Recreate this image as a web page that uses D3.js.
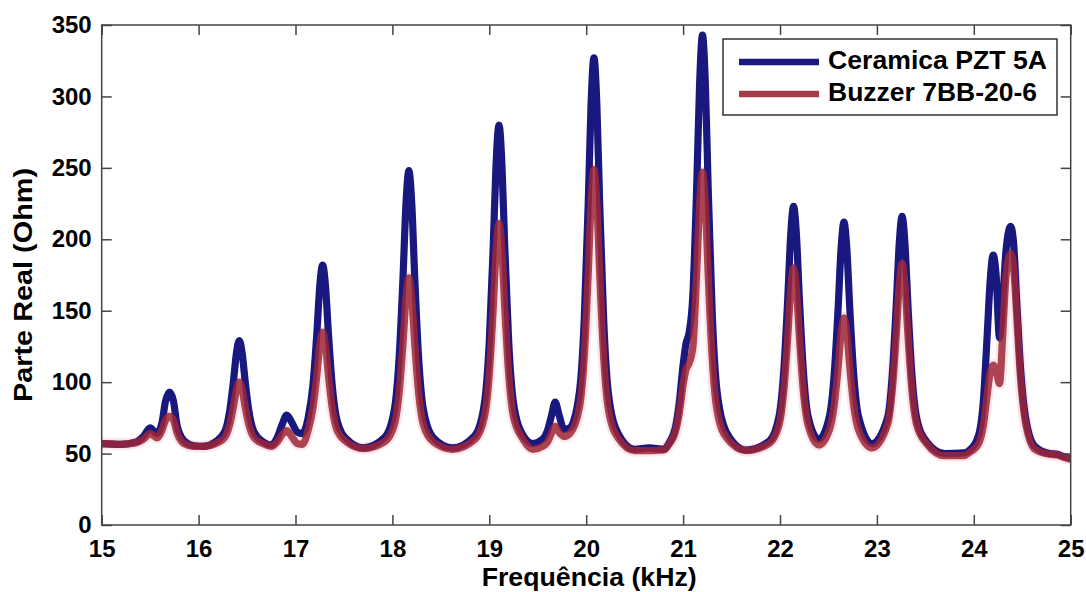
<!DOCTYPE html>
<html>
<head>
<meta charset="utf-8">
<script src="https://cdn.jsdelivr.net/npm/d3@7"></script>
<style>
  html, body { margin: 0; padding: 0; background: #ffffff; }
  svg { display: block; }
  text { font-family: "Liberation Sans", Arial, sans-serif; font-weight: bold; fill: #000; }
</style>
</head>
<body>
<svg id="chart" width="1086" height="592"></svg>
<script>
// ---------------- data ----------------
const seriesNames = ["Ceramica PZT 5A", "Buzzer 7BB-20-6"];
const xTicks = [15, 16, 17, 18, 19, 20, 21, 22, 23, 24, 25];
const yTicks = [0, 50, 100, 150, 200, 250, 300, 350];
const xLabel = "Frequência (kHz)";
const yLabel = "Parte Real (Ohm)";

// frequency (kHz)
const freq = [
  15.00, 15.20, 15.35, 15.43, 15.50, 15.57, 15.62, 15.66, 15.70, 15.74,
  15.78, 15.85, 15.95, 16.05, 16.17, 16.27, 16.32, 16.36, 16.39, 16.42,
  16.45, 16.48, 16.52, 16.57, 16.67, 16.75, 16.81, 16.86, 16.91, 16.96,
  17.02, 17.07, 17.13, 17.18, 17.22, 17.25, 17.28, 17.31, 17.34, 17.38,
  17.43, 17.53, 17.70, 17.92, 18.02, 18.07, 18.11, 18.14, 18.17, 18.20,
  18.23, 18.27, 18.32, 18.42, 18.62, 18.85, 18.95, 19.00, 19.04, 19.07,
  19.10, 19.13, 19.16, 19.20, 19.25, 19.35, 19.45, 19.55, 19.60, 19.64,
  19.68, 19.72, 19.77, 19.83, 19.93, 19.98, 20.02, 20.05, 20.08, 20.11,
  20.14, 20.18, 20.23, 20.33, 20.50, 20.65, 20.80, 20.86, 20.92, 20.96,
  21.00, 21.03, 21.06, 21.10, 21.14, 21.17, 21.20, 21.23, 21.26, 21.30,
  21.35, 21.45, 21.65, 21.89, 21.99, 22.04, 22.08, 22.11, 22.14, 22.17,
  22.20, 22.24, 22.29, 22.40, 22.51, 22.56, 22.60, 22.63, 22.66, 22.69,
  22.72, 22.76, 22.81, 22.95, 23.11, 23.16, 23.20, 23.23, 23.26, 23.29,
  23.32, 23.36, 23.41, 23.51, 23.70, 23.90, 23.95, 24.05, 24.10, 24.14,
  24.17, 24.20, 24.23, 24.265, 24.30, 24.33, 24.36, 24.38, 24.41, 24.44,
  24.48, 24.53, 24.63, 24.78, 24.86, 24.92, 25.00
];

// Ceramica PZT 5A (Ohm)
const ceramica = [
  57, 56.5, 58, 62, 68, 64, 71, 87, 93, 87,
  69, 59, 55.5, 55, 58, 65.4, 79.4, 100.9, 120.1, 129,
  120.1, 100.9, 79.4, 65.4, 58, 56, 61, 70, 77, 72,
  65, 64, 75, 98, 133.7, 166.8, 182, 166.8, 133.7, 96.9,
  72.8, 60, 54, 61.3, 80.7, 117.7, 174.1, 224.7, 248, 224.7,
  174.1, 117.7, 80.7, 61.3, 54, 62.6, 85.2, 128.2, 193.9, 252.8,
  280, 252.8, 193.9, 128.2, 85.2, 62.6, 57, 60, 66, 76,
  86, 77, 67, 68, 93, 143.4, 222.9, 294.1, 327, 294.1,
  222.9, 143.4, 91.4, 64, 53, 54, 53, 58, 68, 85,
  112, 127, 134, 160, 236, 308, 343, 308, 233, 148.7,
  93.6, 64.6, 52.5, 58.8, 75.9, 108.4, 158, 202.5, 223, 202.5,
  158, 108.4, 75.9, 60, 76.1, 106.1, 152, 193, 212, 193,
  152, 106.1, 76.1, 57, 75, 106.1, 153.7, 196.3, 216, 196.3,
  153.7, 106.1, 75, 58.6, 50, 50.5, 52, 63, 88, 135,
  172, 189, 175, 131, 158, 190, 206, 209, 198, 160,
  112, 77, 55, 50, 49.5, 48, 46.5
];

// Buzzer 7BB-20-6 (Ohm)
const buzzer = [
  57, 56.5, 57.5, 60, 64, 61, 66, 73.5, 76, 73.5,
  64, 57, 55, 55, 56.8, 61.3, 69.9, 82.9, 94.6, 100,
  94.6, 82.9, 69.9, 61.3, 56.8, 55, 58, 63, 66, 62,
  57, 56.5, 66.2, 82, 104.6, 125.4, 135, 125.4, 104.6, 81.4,
  66.2, 58, 53.5, 58.3, 70.2, 92.9, 127.6, 158.7, 173, 158.7,
  127.6, 92.9, 70.2, 58.3, 53, 59.8, 75.6, 105.5, 151.2, 192.1,
  211, 192.1, 151.2, 105.5, 75.6, 59.8, 53, 55, 58, 64,
  69, 65, 62, 64, 82, 117.7, 174.5, 225.5, 249, 225.5,
  174.5, 117.7, 80.4, 60.8, 52, 52, 52.5, 57, 65, 78,
  98, 109, 113, 124, 176, 223.7, 247, 223.7, 173.3, 117,
  80.2, 60.8, 52, 57.1, 69.9, 94.2, 131.4, 164.6, 180, 164.6,
  131.4, 94.2, 69.9, 56, 66.7, 84, 110.4, 134.1, 145, 134.1,
  110.4, 84, 66.7, 54, 70.3, 95.2, 133.2, 167.3, 183, 167.3,
  133.2, 95.2, 70.3, 57.2, 48.5, 48.5, 50.5, 57, 70, 92,
  107, 112, 108, 99, 135, 172, 187, 190, 181, 150,
  105, 73, 53, 49.5, 49, 47.5, 46
];

// ---------------- drawing ----------------
const plot = { left: 101.7, right: 1070.7, top: 25, bottom: 525 };
const blue = "#18187f";
const red = "#9e2636";

const svg = d3.select("#chart");
const x = d3.scaleLinear().domain([15, 25]).range([plot.left, plot.right]);
const y = d3.scaleLinear().domain([0, 350]).range([plot.bottom, plot.top]);

svg.append("defs").append("clipPath").attr("id", "clip")
  .append("rect")
  .attr("x", plot.left).attr("y", plot.top)
  .attr("width", plot.right - plot.left).attr("height", plot.bottom - plot.top);

const rowsC = freq.map((f, i) => [f, ceramica[i]]);
const rowsB = freq.map((f, i) => [f, buzzer[i]]);

const line = d3.line()
  .x(d => x(d[0]))
  .y(d => y(d[1]))
  .curve(d3.curveMonotoneX);

const g = svg.append("g").attr("clip-path", "url(#clip)");

// soft halo like the reference's blur
g.append("path").datum(rowsB).attr("d", line)
  .attr("fill", "none").attr("stroke", "#f6c9d2").attr("stroke-width", 12)
  .attr("stroke-opacity", 0.45).attr("stroke-linejoin", "round");
g.append("path").datum(rowsC).attr("d", line)
  .attr("fill", "none").attr("stroke", blue).attr("stroke-width", 7.2)
  .attr("stroke-linejoin", "round");
g.append("path").datum(rowsB).attr("d", line)
  .attr("fill", "none").attr("stroke", red).attr("stroke-width", 7.2)
  .attr("stroke-opacity", 0.85).attr("stroke-linejoin", "round");

// axes (ticks pointing inward, MATLAB style)
const axisColor = "#444";
function styleAxis(sel) {
  sel.select(".domain").remove();
  sel.selectAll(".tick line").attr("stroke", axisColor).attr("stroke-width", 1.5);
  sel.selectAll("text").attr("font-size", 24).attr("fill", "#000")
    .attr("font-family", "Liberation Sans, Arial, sans-serif").attr("font-weight", "bold");
}

svg.append("g").attr("transform", `translate(0,${plot.bottom})`)
  .call(d3.axisBottom(x).tickValues(xTicks).tickSize(-10).tickPadding(15).tickFormat(d3.format("d")))
  .call(styleAxis);
svg.append("g").attr("transform", `translate(${plot.left},0)`)
  .call(d3.axisLeft(y).tickValues(yTicks).tickSize(-10).tickPadding(10).tickFormat(d3.format("d")))
  .call(styleAxis);
svg.append("g").attr("transform", `translate(0,${plot.top})`)
  .call(d3.axisTop(x).tickValues(xTicks).tickSize(-10).tickFormat(""))
  .call(styleAxis);
svg.append("g").attr("transform", `translate(${plot.right},0)`)
  .call(d3.axisRight(y).tickValues(yTicks).tickSize(-10).tickFormat(""))
  .call(styleAxis);

// frame
svg.append("rect")
  .attr("x", plot.left).attr("y", plot.top)
  .attr("width", plot.right - plot.left).attr("height", plot.bottom - plot.top)
  .attr("fill", "none").attr("stroke", axisColor).attr("stroke-width", 1.5);

// axis titles
svg.append("text")
  .attr("x", (plot.left + plot.right) / 2 + 3).attr("y", 586)
  .attr("text-anchor", "middle").attr("font-size", 26)
  .attr("textLength", 215).attr("lengthAdjust", "spacingAndGlyphs")
  .text(xLabel);
svg.append("text")
  .attr("transform", "translate(32,285) rotate(-90)")
  .attr("text-anchor", "middle").attr("font-size", 26)
  .attr("textLength", 234).attr("lengthAdjust", "spacingAndGlyphs")
  .text(yLabel);

// legend
const lg = svg.append("g");
lg.append("rect").attr("x", 723).attr("y", 39).attr("width", 334).attr("height", 76)
  .attr("fill", "#fff").attr("stroke", "#333").attr("stroke-width", 1.5);
const legendColors = [blue, red];
const legendLens = [219, 209];
seriesNames.forEach((name, i) => {
  const yy = 62 + i * 32;
  lg.append("line").attr("x1", 739).attr("x2", 819).attr("y1", yy).attr("y2", yy)
    .attr("stroke", legendColors[i]).attr("stroke-width", 6.5)
    .attr("stroke-opacity", i === 1 ? 0.9 : 1);
  lg.append("text").attr("x", 828).attr("y", yy + 6.5)
    .attr("font-size", 25)
    .attr("textLength", legendLens[i]).attr("lengthAdjust", "spacingAndGlyphs")
    .text(name);
});
</script>
</body>
</html>
